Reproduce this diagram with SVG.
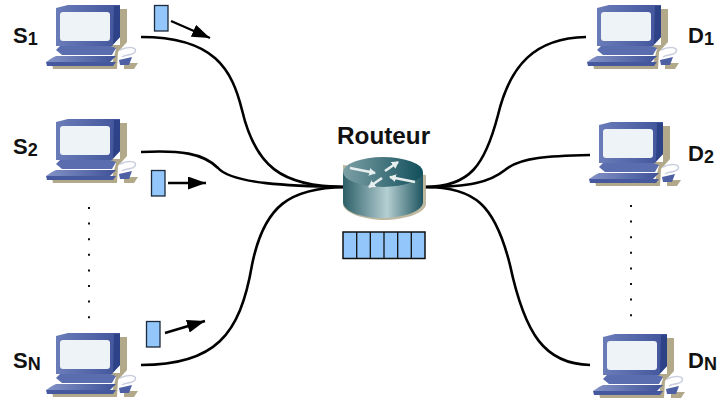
<svg xmlns="http://www.w3.org/2000/svg" width="717" height="398" viewBox="0 0 717 398">
<style>
text{font-family:"Liberation Sans",Arial,sans-serif;font-weight:bold;fill:#111}
.lbl{font-size:22px}
.sub{font-size:18px}
.wire{fill:none;stroke:#000;stroke-width:2.6}
.arr{fill:none;stroke:#000;stroke-width:2.4;marker-end:url(#ah)}
.pk{fill:#93c7fb;stroke:#1c2a3a;stroke-width:1.3}
.dots{fill:none;stroke:#111;stroke-width:2;stroke-dasharray:2 13.6}
.ra{fill:none;stroke:#e6eeee;stroke-width:2.6;marker-end:url(#rh)}
</style>
<defs>
<marker id="ah" markerUnits="userSpaceOnUse" markerWidth="20" markerHeight="14" refX="18" refY="6.500" orient="auto"><path d="M0 0L18 6.500L0 13Z" fill="#000"/></marker>
<marker id="rh" markerUnits="userSpaceOnUse" markerWidth="8" markerHeight="8" refX="6" refY="4" orient="auto"><path d="M0 0L7 4L0 8Z" fill="#e6eeee"/></marker>
<linearGradient id="kb" x1="0" x2="1" y1="0" y2="0"><stop offset="0" stop-color="#8393c6"/><stop offset="1" stop-color="#3f5299"/></linearGradient>
<linearGradient id="mon" x1="0" x2="1" y1="0" y2="0"><stop offset="0" stop-color="#6a7cb8"/><stop offset="1" stop-color="#41549b"/></linearGradient>
<linearGradient id="cyl" x1="0" x2="1" y1="0" y2="0"><stop offset="0" stop-color="#2c5f68"/><stop offset=".55" stop-color="#b5cfd2"/><stop offset="1" stop-color="#1f5560"/></linearGradient>
<linearGradient id="top" x1="0" x2="1" y1="0" y2="0"><stop offset="0" stop-color="#7da0a6"/><stop offset="1" stop-color="#114f5b"/></linearGradient>
<g id="pc">
<path d="M120 9H127V42L118 52L117 69H53L52 64H112L116 49H66V45H120Z" fill="#b1a98a"/>
<path d="M124 63H138L134 69H124Z" fill="#b1a98a"/>
<path d="M56 8L68 5H120V37L112 46H56Z" fill="url(#mon)"/>
<path d="M114 6H120V37L113 44Z" fill="#2e4288"/>
<rect x="60" y="12" width="50" height="29" rx="3" fill="#eef3f8"/>
<path d="M60 46H110L116 48L112 55H62L56 50Z" fill="#5a6dae"/>
<path d="M56 56H116L110 62L46 62L52 58Z" fill="url(#kb)"/>
<path d="M46 62H116L113 66H47Z" fill="#46599f"/>
<path d="M119 60L132 57L129 65H120Z" fill="#4d60a4"/>
<path d="M120 50C128 46 138 47 135 52C132 56 125 54 122 57" fill="none" stroke="#c9cedd" stroke-width="1.500"/>
</g>
</defs>
<g id="connectors">
<path class="wire" d="M141 37C215 37 232 70 242 110C255 165 280 187 345 187"/>
<path class="wire" d="M141 152C180 150 203 153 218 168C232 184 290 186 345 187"/>
<path class="wire" d="M141 365C215 365 240 335 252 265C264 205 290 188 345 187"/>
<path class="wire" d="M425 187C470 187 485 165 498 115C510 65 535 38 586 37"/>
<path class="wire" d="M425 187C470 187 490 182 505 170C520 157 550 156 590 155"/>
<path class="wire" d="M425 187C475 187 495 205 510 265C525 335 545 364 590 365"/>
<path class="arr" d="M171 21L210 38"/>
<path class="arr" d="M168 183H206"/>
<path class="arr" d="M165 333L205 321"/>
<path class="dots" d="M89 207V325"/>
<path class="dots" d="M631 205V322"/>
</g>
<g id="s1"><use href="#pc"/><text class="lbl" x="13" y="43">S<tspan class="sub" dy="2">1</tspan></text></g>
<g id="s2"><use href="#pc" y="114"/><text class="lbl" x="13" y="154">S<tspan class="sub" dy="2">2</tspan></text></g>
<g id="sn"><use href="#pc" y="328"/><text class="lbl" x="13" y="368">S<tspan class="sub" dy="2">N</tspan></text></g>
<g id="d1"><use href="#pc" x="541"/><text class="lbl" x="688" y="43">D<tspan class="sub" dy="2">1</tspan></text></g>
<g id="d2"><use href="#pc" x="543" y="117"/><text class="lbl" x="688" y="161">D<tspan class="sub" dy="2">2</tspan></text></g>
<g id="dn"><use href="#pc" x="547" y="329"/><text class="lbl" x="688" y="368">D<tspan class="sub" dy="2">N</tspan></text></g>
<g id="p1"><rect class="pk" x="154.500" y="5.500" width="13.500" height="25.500"/></g>
<g id="p2"><rect class="pk" x="151.500" y="170.500" width="13.500" height="25.500"/></g>
<g id="p3"><rect class="pk" x="146.500" y="321.500" width="13.500" height="25.500"/></g>
<g id="router">
<text x="337" y="144" style="font-size:24.300px">Routeur</text>
<path d="M343 165V204C343 213 365 220 384 220C404 220 426 213 426 204V175Z" fill="#b5ad90" opacity=".85"/>
<path d="M343 172V202C343 211 360 218 382 218C404 218 423 211 423 202V172Z" fill="url(#cyl)"/>
<ellipse cx="383" cy="172" rx="40" ry="15" fill="url(#top)"/>
<path class="ra" d="M350 168L375 173"/>
<path class="ra" d="M385 171L398 162"/>
<path class="ra" d="M415 182L390 177"/>
<path class="ra" d="M382 178L369 187"/>
</g>
<g id="queue">
<rect x="343" y="232" width="82" height="26.500" fill="#93c7fb" stroke="#111" stroke-width="1.500"/>
<path d="M356.700 232V258.500M370.300 232V258.500M384 232V258.500M397.700 232V258.500M411.300 232V258.500" stroke="#111" stroke-width="1.300" fill="none"/>
</g>
</svg>
